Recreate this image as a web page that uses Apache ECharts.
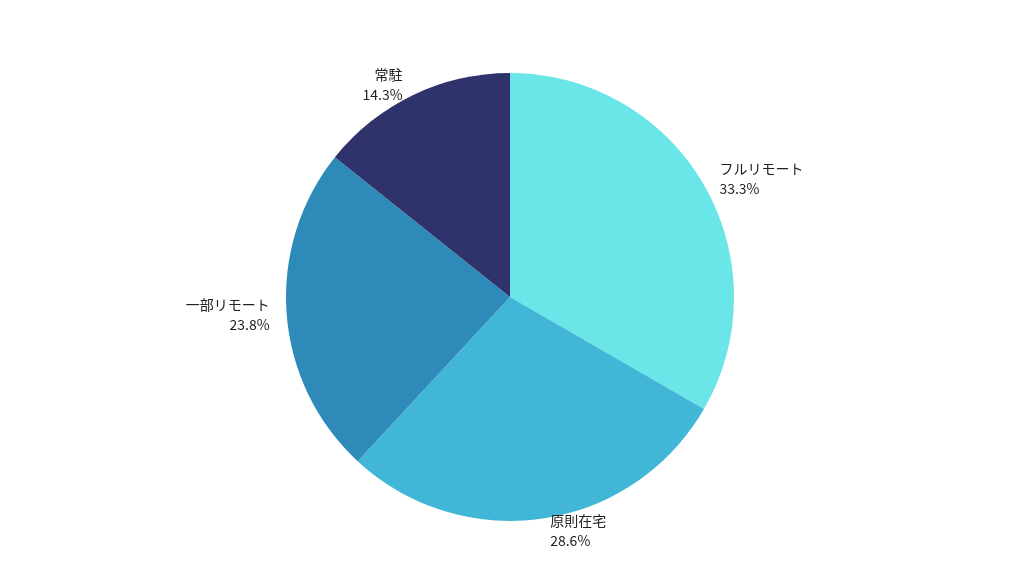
<!DOCTYPE html>
<html>
<head>
<meta charset="utf-8">
<script src="https://cdn.jsdelivr.net/npm/echarts@6/dist/echarts.min.js"></script>
<style>html,body{margin:0;background:#fff}#c{width:1024px;height:576px}</style>
</head>
<body>
<div id="c"></div>
<script>
var names = ['フルリモート', '原則在宅', '一部リモート', '常駐']
var values = [7, 6, 5, 3]
var colors = ['#6ae5e8', '#42b6d6', '#2e8bb9', '#30336b']

var chart = echarts.init(document.getElementById('c'))
var data = names.map(function (n, i) {
  return { name: n, value: values[i], itemStyle: { color: colors[i] } }
})
chart.setOption({
  animation: false,
  series: [{
    type: 'pie',
    center: [510, 297],
    radius: 224,
    startAngle: 90,
    clockwise: true,
    data: data,
    label: {
      position: 'outside',
      formatter: function (p) { return p.name + '\n' + p.percent.toFixed(1) + '%' },
      fontFamily: 'Noto Sans CJK JP',
      fontSize: 14,
      color: '#222',
      lineHeight: 20,
      align: 'center'
    },
    labelLine: { show: false, length: 12, length2: 0 },
    itemStyle: { borderWidth: 0 }
  }]
})
</script>
</body>
</html>
